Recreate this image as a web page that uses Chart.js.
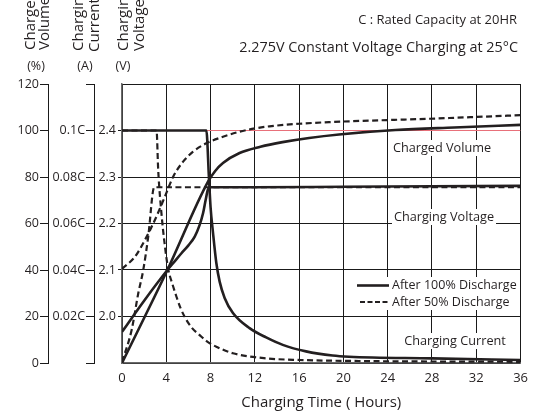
<!DOCTYPE html>
<html>
<head>
<meta charset="utf-8">
<script src="https://cdn.jsdelivr.net/npm/chart.js@4.4.0/dist/chart.umd.min.js"></script>
<style>
html,body{margin:0;padding:0;background:#fff;}
#wrap{width:535px;height:414px;}
</style>
</head>
<body>
<div id="wrap"><canvas id="c" width="535" height="414"></canvas></div>
<script>
// ---------------- data ----------------
// Charged volume (%), after 100% discharge
const volSolidH = [0, 4.1, 7.77, 8.4, 9.12, 10.62, 12.5, 14.5, 16.9, 19.6, 24.7, 30, 36];
const volSolid  = [0, 40, 78, 82.5, 86, 90.3, 93.0, 95.0, 96.8, 98.3, 100.2, 101.3, 102.4];
// Charged volume (%), after 50% discharge
const volDashH = [0, 1.17, 2.07, 2.97, 3.87, 4.62, 5.52, 6.42, 7.62, 9.12, 10.62, 12.12, 13.32, 16, 18.7, 28.6, 36];
const volDash  = [40.5, 45.7, 52.9, 61.5, 71.5, 80.1, 86.6, 90.9, 94.5, 97.3, 99.5, 101.0, 101.8, 102.9, 103.6, 105.2, 106.6];
// Charging voltage (V), after 100% discharge
const voltSolidH = [0, 2.0, 4.1, 4.7, 5.37, 6.0, 6.57, 7.0, 7.32, 7.55, 7.75, 7.95, 12, 20, 36];
const voltSolid  = [1.967, 2.034, 2.1, 2.117, 2.136, 2.153, 2.172, 2.196, 2.222, 2.25, 2.272, 2.278, 2.278, 2.279, 2.281];
// Charging voltage (V), after 50% discharge
const voltDashH = [0, 0.87, 1.47, 1.92, 2.37, 2.91, 36];
const voltDash  = [1.902, 1.971, 2.05, 2.1, 2.172, 2.278, 2.278];
// Charging current (C), after 100% discharge
const curSolidH = [0, 7.62, 7.85, 8.0, 8.22, 8.52, 8.82, 9.27, 10.02, 11.52, 13.02, 14.52, 16.62, 19.02, 20.5, 28, 36];
const curSolid  = [0.1, 0.1, 0.08, 0.067, 0.056, 0.043, 0.035, 0.028, 0.0215, 0.015, 0.011, 0.0078, 0.005, 0.0032, 0.0027, 0.002, 0.0013];
// Charging current (C), after 50% discharge
const curDashH = [0, 3.12, 3.27, 3.57, 3.87, 4.17, 4.55, 4.92, 5.3, 5.7, 6.3, 7.02, 7.7, 8.52, 10.02, 13.02, 16.0, 20.5, 36];
const curDash  = [0.1, 0.1, 0.083, 0.064, 0.0505, 0.0405, 0.034, 0.0285, 0.0235, 0.0195, 0.0152, 0.012, 0.0092, 0.007, 0.0042, 0.002, 0.0013, 0.0009, 0.0005];
// 100% reference line
const refH   = [0, 36];
const refVol = [100, 100];

// axis ranges / ticks
const timeRange = [0, 36], timeStep = 4;
const pctRange = [0, 120], pctStep = 20;
const curRange = [0, 0.12], curStep = 0.02;
const voltRange = [1.9, 2.5], voltStep = 0.1;

const seriesNames = ['After 100% Discharge', 'After 50% Discharge'];
const curveLabels = ['Charged Volume', 'Charging Voltage', 'Charging Current'];
const noteLines = ['C : Rated Capacity at 20HR', '2.275V Constant Voltage Charging at 25\u00B0C'];
const xTitle = 'Charging Time ( Hours)';

// ---------------- styles ----------------
const FONT = '"Open Sans", "Noto Sans", sans-serif';
const TXT = '#231f20';
const LINE = '#231f20';
const GRID = '#1a1a1a';
const DASH = [6, 3.5];

const pts = (xs, ys) => xs.map((x, i) => ({x: x, y: ys[i]}));

function ds(xs, ys, axis, dashed, order) {
  return {
    data: pts(xs, ys),
    yAxisID: axis,
    borderColor: LINE,
    borderWidth: dashed ? 2.2 : 2.6,
    borderDash: dashed ? DASH : [],
    pointRadius: 0,
    fill: false,
    cubicInterpolationMode: 'monotone',
    order: order
  };
}

const datasets = [
  {data: pts(refH, refVol), yAxisID: 'yPct', borderColor: '#e8707a', borderWidth: 1, pointRadius: 0, fill: false, order: 20},
  ds(curDashH, curDash, 'yCur', true, 5),
  ds(voltDashH, voltDash, 'yVolt', true, 5),
  ds(volDashH, volDash, 'yPct', true, 5),
  ds(curSolidH, curSolid, 'yCur', false, 1),
  ds(voltSolidH, voltSolid, 'yVolt', false, 1),
  ds(volSolidH, volSolid, 'yPct', false, 1)
];

const tickFont = {family: FONT, size: 12.5};

// pick a font size so that a text spans a given width
function fitFont(ctx, text, width, maxSize) {
  ctx.font = '10px ' + FONT;
  const w = ctx.measureText(text).width;
  return Math.min(maxSize, 10 * width / w);
}

const annot = {
  id: 'annot',
  afterDraw(chart) {
    const ctx = chart.ctx;
    ctx.save();
    ctx.fillStyle = TXT;
    // rotated axis titles
    const rot = (t, x, y) => {
      ctx.save(); ctx.translate(x, y); ctx.rotate(-Math.PI / 2);
      ctx.textAlign = 'left'; ctx.textBaseline = 'alphabetic';
      ctx.fillText(t, 0, 0); ctx.restore();
    };
    ctx.font = '15px ' + FONT;
    rot('Charged', 35, 50); rot('Volume', 49, 50);
    rot('Charging', 83, 51); rot('Current', 99, 52);
    rot('Charging', 128, 51); rot('Voltage', 144, 51);
    // units
    ctx.font = '12.5px ' + FONT;
    ctx.textAlign = 'center'; ctx.textBaseline = 'middle';
    ctx.fillText('(%)', 36, 66);
    ctx.fillText('(A)', 85, 66);
    ctx.fillText('(V)', 123, 66);
    // notes
    ctx.textAlign = 'right';
    let fs = fitFont(ctx, noteLines[0], 159, 16);
    ctx.font = fs + 'px ' + FONT;
    ctx.fillText(noteLines[0], 517, 20);
    fs = fitFont(ctx, noteLines[1], 279, 16);
    ctx.font = fs + 'px ' + FONT;
    ctx.fillText(noteLines[1], 518, 48);
    // curve labels with white background
    const lab = (t, cx, cy) => {
      ctx.font = '12.7px ' + FONT;
      const w = ctx.measureText(t).width;
      ctx.fillStyle = '#fff';
      ctx.fillRect(cx - w / 2 - 2, cy - 8, w + 4, 16);
      ctx.fillStyle = TXT;
      ctx.textAlign = 'center'; ctx.textBaseline = 'middle';
      ctx.fillText(t, cx, cy);
    };
    lab(curveLabels[0], 442, 148);
    lab(curveLabels[1], 444, 217);
    lab(curveLabels[2], 455, 341);
    // legend
    ctx.fillStyle = '#fff';
    ctx.fillRect(354, 277, 166, 33);
    ctx.strokeStyle = LINE;
    ctx.lineWidth = 2.6; ctx.setLineDash([]);
    ctx.beginPath(); ctx.moveTo(357, 285.5); ctx.lineTo(389, 285.5); ctx.stroke();
    ctx.lineWidth = 2.2; ctx.setLineDash([5, 2.5]);
    ctx.beginPath(); ctx.moveTo(360, 302); ctx.lineTo(389, 302); ctx.stroke();
    ctx.setLineDash([]);
    ctx.fillStyle = TXT;
    ctx.font = '12.5px ' + FONT;
    ctx.textAlign = 'left'; ctx.textBaseline = 'middle';
    ctx.fillText(seriesNames[0], 392, 285);
    ctx.fillText(seriesNames[1], 392, 302);
    ctx.restore();
  }
};

const hideEnds = (lo, hi) => (c) => (c.tick && (c.tick.value < lo || c.tick.value > hi)) ? 'rgba(0,0,0,0)' : GRID;

new Chart(document.getElementById('c'), {
  type: 'line',
  data: {datasets: datasets},
  options: {
    responsive: false,
    animation: false,
    events: [],
    layout: {padding: {left: 0, right: 13, top: 84, bottom: 0}},
    plugins: {legend: {display: false}, tooltip: {enabled: false}},
    scales: {
      x: {
        type: 'linear', position: 'bottom',
        min: timeRange[0], max: timeRange[1],
        ticks: {stepSize: timeStep, autoSkip: false, maxRotation: 0, padding: 7, color: TXT, font: {family: FONT, size: 13}},
        grid: {color: GRID, lineWidth: 1, drawTicks: false},
        border: {display: true, color: '#6a6a6a', width: 1.5},
        title: {display: true, text: xTitle, color: TXT, font: {family: FONT, size: 15}, padding: {top: 5, bottom: 2}},
        afterFit(s) { s.height = 51; }
      },
      yVolt: {
        type: 'linear', position: 'left', weight: 1,
        min: voltRange[0], max: voltRange[1],
        ticks: {stepSize: voltStep, padding: 2, color: TXT, font: tickFont,
          callback: (v) => (v < 1.95 || v > 2.45) ? '' : Number(v).toFixed(1)},
        grid: {color: GRID, lineWidth: 1, tickLength: 4, tickColor: hideEnds(1.95, 2.45)},
        border: {display: true, color: '#6a6a6a', width: 1.5},
        afterFit(s) { s.width = 28; }
      },
      yCur: {
        type: 'linear', position: 'left', weight: 2,
        min: curRange[0], max: curRange[1],
        ticks: {stepSize: curStep, padding: 1, color: TXT, font: tickFont,
          callback: (v) => (v < 0.01 || v > 0.11) ? '' : (Math.round(v * 100) / 100) + 'C'},
        grid: {drawOnChartArea: false, color: GRID, tickLength: 8, lineWidth: 1},
        border: {display: true, color: GRID, width: 1},
        afterFit(s) { s.width = 46; }
      },
      yPct: {
        type: 'linear', position: 'left', weight: 3,
        min: pctRange[0], max: pctRange[1],
        ticks: {stepSize: pctStep, padding: 1, color: TXT, font: tickFont},
        grid: {drawOnChartArea: false, color: GRID, tickLength: 8, lineWidth: 1},
        border: {display: true, color: GRID, width: 1},
        afterFit(s) { s.width = 48; }
      }
    }
  },
  plugins: [annot]
});
</script>
</body>
</html>
